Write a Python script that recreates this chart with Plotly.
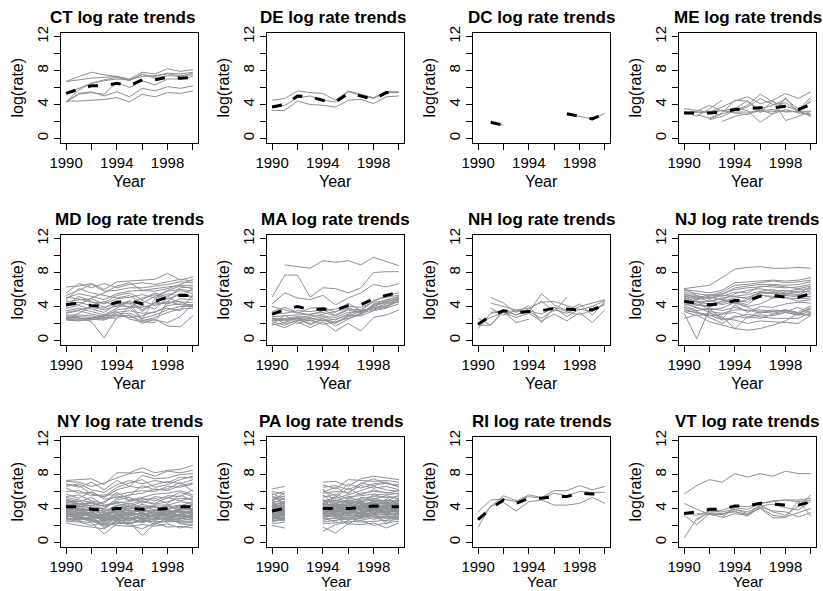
import plotly.graph_objects as go

N = None
YEARS = list(range(1990, 2001))
X_TICKS = [1990, 1992, 1994, 1996, 1998, 2000]
X_TICKTEXT = ["1990", "", "1994", "", "1998", ""]
Y_TICKS = [0, 2, 4, 6, 8, 10, 12]
Y_TICKTEXT = ["0", "", "4", "", "8", "", "12"]
STATES = ["CT", "DE", "DC", "ME", "MD", "MA", "NH", "NJ", "NY", "PA", "RI", "VT"]

CT_LINES = [
    [6.7, 7.3, 7.8, 7.5, 7.3, 7.0, 7.8, 7.6, 8.2, 7.9, 8.1],
    [6.7, 6.9, 7.1, 7.2, 7.3, 6.9, 7.5, 7.3, 7.7, 7.6, 7.8],
    [5.3, 5.9, 6.5, 6.8, 7.0, 6.9, 7.3, 7.4, 7.6, 7.4, 7.5],
    [4.3, 5.7, 6.5, 6.9, 7.2, 6.8, 7.6, 7.1, 7.4, 7.3, 7.7],
    [4.3, 5.2, 5.4, 5.2, 6.6, 6.0, 6.8, 6.3, 7.0, 7.0, 7.3],
    [4.3, 5.3, 5.5, 5.0, 5.5, 4.9, 5.9, 5.6, 6.1, 5.9, 6.2],
    [4.4, 4.4, 4.5, 4.6, 4.8, 4.3, 5.2, 4.9, 5.4, 5.3, 5.6],
]
CT_MEAN = [5.3, 5.8, 6.2, 6.2, 6.5, 6.2, 6.9, 6.9, 7.2, 7.1, 7.2]

DE_LINES = [
    [4.5, 4.7, 5.6, 5.4, 5.3, 4.5, 5.6, 5.2, 4.8, 5.5, 5.5],
    [3.6, 3.9, 4.8, 5.0, 4.5, 4.3, 5.5, 5.1, 4.7, 5.4, 5.4],
    [3.3, 3.3, 4.4, 4.0, 3.9, 3.7, 4.5, 4.6, 4.1, 4.9, 5.0],
]
DE_MEAN = [3.7, 4.0, 5.0, 4.9, 4.5, 4.3, 5.3, 5.0, 4.6, 5.4, 5.4]

DC_LINES = [
    [N, 1.9, 1.55, N, N, N, N, 2.9, 2.6, 2.3, 2.95],
]
DC_MEAN = [N, 1.9, 1.55, N, N, N, N, 2.9, 2.6, 2.3, 2.95]

ME_LINES = [
    [3.5, 3.3, 3.1, 3.7, 4.4, 4.9, 4.1, 4.5, 5.3, 4.7, 5.5],
    [3.2, 2.6, 3.5, 4.5, N, N, N, N, N, N, N],
    [N, N, 2.3, 2.9, 3.3, 3.9, 5.2, 4.3, 3.8, 3.3, 2.7],
    [3.0, 3.2, 3.9, 3.2, 3.6, 3.3, 1.9, 2.9, 3.4, 3.0, 4.6],
    [N, 2.8, 2.4, 3.0, 4.5, 4.4, 3.0, 4.5, 2.1, 2.6, 3.2],
    [N, N, N, 2.0, 2.6, 2.9, 3.3, 3.4, 3.1, 3.2, 2.6],
    [3.1, 3.1, 3.0, 3.3, 3.0, 2.8, 3.5, 3.9, 4.6, 3.5, 4.3],
    [N, N, 2.2, 2.6, 3.3, 3.7, 4.7, 4.0, 4.2, 3.3, 4.9],
    [3.0, 3.1, 3.2, 3.3, 3.1, 3.1, 3.2, 3.2, 3.2, 3.2, 3.2],
    [N, N, N, N, 3.5, 4.4, 3.3, 2.9, 4.8, 3.0, 2.9],
]
ME_MEAN = [3.0, 3.0, 3.0, 3.1, 3.4, 3.5, 3.6, 3.6, 3.8, 3.4, 4.0]

MD_LINES = [
    [6.3, 6.4, 6.7, 6.0, 6.9, 7.0, 7.1, 7.2, 7.9, 7.1, 7.5],
    [5.6, 6.7, 6.2, 6.7, 6.2, 6.6, 6.8, 6.6, 6.9, 7.2, 7.0],
    [5.3, 5.9, 6.6, 5.8, 5.9, 6.2, 6.2, 6.4, 6.6, 6.9, 6.8],
    [5.0, 5.5, 5.2, 4.8, 5.5, 5.8, 5.9, 6.1, 6.3, 6.5, 6.5],
    [4.8, 6.1, 5.6, 5.3, 5.0, 5.3, 4.4, 5.2, 5.9, 6.4, 6.1],
    [4.5, 4.8, 4.9, 4.3, 4.9, 5.1, 5.4, 5.0, 5.8, 6.0, 5.8],
    [4.3, 4.5, 4.1, 4.6, 4.0, 4.7, 3.6, 4.4, 5.3, 5.9, 5.5],
    [4.0, 5.2, 4.6, 3.9, 4.4, 4.3, 5.0, 5.4, 4.9, 5.4, 5.2],
    [3.8, 4.1, 3.7, 3.3, 4.3, 3.9, 4.7, 4.1, 4.6, 5.6, 5.0],
    [3.5, 3.8, 3.4, 3.0, 3.8, 4.6, 3.4, 4.5, 4.3, 4.9, 4.8],
    [3.2, 3.5, 3.1, 2.8, 3.6, 3.8, 4.1, 3.7, 5.0, 4.5, 4.5],
    [3.0, 3.0, 2.9, 2.6, 3.3, 3.5, 3.2, 3.3, 4.1, 4.3, 4.2],
    [2.9, 2.8, 2.7, 2.5, 3.1, 3.2, 2.6, 3.0, 3.6, 4.0, 4.0],
    [2.8, 2.6, 2.5, 2.4, 2.9, 2.9, 2.3, 2.7, 3.3, 3.7, 3.8],
    [2.7, 2.7, 2.2, 0.3, 2.7, 3.0, 2.0, 2.5, 1.7, 1.6, 2.9],
    [2.6, 2.5, 2.6, 3.0, 3.4, 2.5, 2.2, 2.1, 4.6, 4.2, 4.1],
    [2.5, 2.4, 2.4, 2.7, 2.6, 4.0, 2.4, 2.4, 2.1, 2.8, 4.3],
    [2.5, 3.2, 4.0, 3.8, 4.6, 4.4, 2.5, 4.9, 5.5, 5.2, 6.1],
    [4.7, 4.2, 5.0, 5.6, 6.4, 6.8, 5.9, 5.8, 6.1, 6.6, 7.2],
    [5.1, 4.9, 4.5, 4.4, 5.3, 5.6, 4.8, 5.6, 5.1, 6.2, 6.3],
    [3.3, 3.6, 3.9, 3.6, 4.1, 4.0, 3.9, 4.3, 4.4, 4.6, 3.9],
    [2.4, 2.3, 2.5, 2.9, 3.0, 2.7, 2.9, 3.4, 3.8, 3.5, 5.4],
]
MD_MEAN = [4.2, 4.4, 4.1, 4.0, 4.5, 4.7, 4.3, 4.6, 5.1, 5.3, 5.3]

MA_LINES = [
    [N, 8.9, 8.7, 8.5, 9.4, 9.2, 9.4, 8.9, 9.8, 9.3, 8.8],
    [5.1, 7.7, 7.7, 5.1, 6.2, 6.1, 5.6, 6.2, 8.0, 8.1, 8.1],
    [4.3, 5.6, 5.0, 4.8, 5.3, 4.2, 5.0, 5.6, 6.6, 6.3, 6.7],
    [4.0, 3.6, 3.2, 3.8, 3.9, 3.3, 4.4, 3.5, 4.6, 5.3, 5.6],
    [3.1, 3.2, 3.5, 3.4, 3.6, 3.0, 3.7, 3.6, 4.7, 5.1, 5.3],
    [2.8, 2.9, 3.0, 3.1, 3.3, 2.9, 3.6, 3.2, 4.2, 4.8, 5.1],
    [2.6, 2.6, 2.8, 2.7, 3.1, 3.4, 3.8, 3.3, 4.0, 4.5, 5.0],
    [2.5, 2.4, 2.7, 2.9, 2.9, 2.7, 3.3, 3.4, 3.8, 4.3, 4.9],
    [2.4, 2.3, 2.6, 2.5, 2.8, 2.4, 3.1, 3.6, 3.7, 4.1, 4.8],
    [2.3, 2.5, 2.5, 2.3, 2.6, 2.1, 2.9, 3.4, 3.9, 4.0, 4.6],
    [2.2, 1.8, 2.4, 2.0, 2.4, 2.0, 2.8, 3.1, 4.3, 4.4, 4.5],
    [2.0, 1.5, 2.2, 1.5, 2.2, 1.1, 2.0, 1.1, 2.7, 3.0, 3.6],
    [1.8, 2.1, 2.7, 1.8, 2.6, 1.7, 2.5, 3.2, 3.6, 3.9, 4.7],
    [1.9, 3.0, 2.0, 2.4, 1.9, 2.2, 2.6, 3.0, 4.1, 4.6, 4.9],
    [3.4, 3.9, 3.3, 3.0, 3.5, 3.7, 4.0, 3.9, 4.5, 4.7, 5.2],
    [2.7, 2.0, 2.3, 2.6, 2.3, 2.5, 3.0, 2.9, 3.5, 3.8, 4.3],
]
MA_MEAN = [3.1, 3.6, 4.0, 3.6, 3.7, 3.6, 4.1, 4.2, 4.9, 5.3, 5.7]

NH_LINES = [
    [1.4, 3.2, 3.4, 3.5, 3.3, 5.5, 4.2, 3.5, 4.3, 3.0, 4.6],
    [2.6, 1.8, 3.6, 3.0, 3.7, 4.6, 3.4, 5.1, N, N, N],
    [1.8, 1.8, 3.4, 2.1, 2.5, N, N, N, N, N, N],
    [N, 5.1, 4.4, 3.3, 4.1, 2.1, 3.9, 3.4, 3.0, 3.6, 4.2],
    [N, 4.4, 4.0, 3.6, 3.8, 4.5, 4.6, 4.1, 3.6, 4.0, 4.7],
    [2.0, 2.7, 3.3, 2.7, 3.2, 2.3, 3.1, 2.3, 3.3, 2.1, 3.6],
    [N, 3.8, 3.0, 3.5, 3.5, 3.1, 3.9, 2.8, 3.7, 3.4, 4.4],
    [N, 3.3, 3.5, 3.0, 3.4, 2.6, 3.6, 3.2, 4.0, 4.4, 4.8],
]
NH_MEAN = [1.9, 2.9, 3.5, 3.3, 3.4, 3.5, 3.8, 3.7, 3.6, 3.6, 4.2]

NJ_LINES = [
    [6.1, 6.3, 6.5, 7.4, 8.4, 8.6, 8.7, 8.5, 8.5, 8.6, 8.5],
    [6.0, 5.8, 5.6, 5.9, 6.8, 6.9, 7.0, 7.1, 7.0, 7.1, 7.4],
    [5.9, 5.5, 5.3, 5.7, 6.5, 6.6, 6.8, 7.0, 6.8, 6.9, 7.1],
    [5.7, 5.2, 5.0, 5.4, 6.2, 6.4, 6.6, 6.6, 6.5, 6.6, 6.9],
    [5.5, 5.0, 5.4, 5.2, 5.7, 5.6, 6.4, 6.3, 6.2, 6.3, 6.6],
    [5.3, 4.8, 5.1, 4.8, 5.5, 5.9, 6.1, 5.8, 5.9, 5.6, 6.3],
    [5.1, 4.6, 4.6, 5.0, 5.2, 5.4, 5.8, 6.0, 5.6, 5.4, 6.0],
    [5.0, 4.5, 4.3, 4.6, 5.0, 5.1, 5.6, 5.7, 5.5, 5.8, 5.7],
    [4.8, 4.3, 4.0, 4.4, 4.8, 4.5, 5.6, 5.5, 5.3, 5.1, 5.2],
    [4.6, 4.1, 4.8, 4.2, 4.6, 4.2, 5.3, 5.2, 5.0, 4.9, 5.0],
    [4.5, 3.8, 3.6, 3.8, 4.5, 4.0, 4.3, 5.0, 5.1, 4.6, 4.8],
    [4.3, 3.9, 3.3, 2.5, 4.2, 3.3, 4.0, 3.9, 4.3, 4.5, 4.4],
    [4.1, 3.5, 3.8, 3.5, 3.9, 3.5, 3.6, 3.4, 3.6, 3.3, 4.1],
    [3.9, 3.4, 2.7, 2.0, 2.9, 2.6, 3.4, 3.2, 3.5, 3.1, 3.9],
    [3.7, 3.2, 2.9, 3.1, 3.3, 2.8, 3.0, 2.9, 3.3, 3.0, 3.5],
    [3.5, 3.3, 3.0, 2.4, 2.7, 3.1, 2.8, 2.6, 2.6, 2.6, 3.3],
    [3.2, 0.2, 3.7, 2.6, 2.4, 2.0, 2.3, 2.2, 2.1, 2.0, 3.0],
    [2.6, 3.0, 2.2, 1.8, 1.4, 1.2, 1.4, 1.8, 2.3, 3.2, 2.9],
    [6.1, 5.3, 4.9, 5.3, 5.2, 4.9, 5.7, 5.6, 5.4, 5.3, 5.5],
    [5.4, 5.1, 4.6, 4.9, 4.4, 4.8, 5.4, 5.0, 5.8, 6.0, 6.1],
    [4.9, 4.2, 3.9, 4.7, 4.4, 3.9, 3.3, 3.4, 3.6, 3.2, 3.7],
    [4.4, 4.7, 3.4, 3.2, 3.6, 3.6, 3.2, 3.6, 3.4, 3.9, 3.2],
    [3.4, 2.9, 3.2, 2.8, 1.4, 2.8, 2.6, 3.1, 3.3, 3.0, 3.1],
    [5.2, 4.9, 5.2, 5.5, 6.0, 6.2, 6.3, 6.5, 6.3, 6.1, 6.4],
]
NJ_MEAN = [4.6, 4.4, 4.2, 4.3, 4.7, 4.7, 5.2, 5.3, 5.1, 5.1, 5.5]

NY_LINES = [
    [7.3, 7.4, 7.5, 6.8, 8.2, 8.2, 8.8, 8.2, 8.5, 8.6, 9.1],
    [7.2, 7.1, 6.6, 7.0, 7.6, 8.1, 8.3, 7.8, 8.4, 8.2, 8.5],
    [6.9, 6.5, 7.1, 6.2, 7.3, 6.6, 7.9, 7.5, 7.6, 8.0, 8.1],
    [6.6, 6.9, 6.2, 5.9, 6.8, 7.3, 6.9, 7.3, 7.0, 7.7, 7.6],
    [6.4, 5.8, 5.9, 5.3, 6.2, 6.6, 6.4, 6.8, 7.2, 6.9, 7.4],
    [6.0, 6.1, 5.5, 5.6, 5.6, 5.9, 6.1, 6.0, 6.6, 6.5, 6.9],
    [5.7, 5.2, 6.0, 5.1, 5.3, 5.5, 6.7, 6.2, 6.3, 7.1, 6.0],
    [5.4, 5.6, 4.9, 4.6, 5.9, 5.0, 5.3, 5.7, 5.8, 6.1, 5.6],
    [5.1, 4.8, 5.3, 4.4, 4.7, 4.8, 5.2, 4.9, 5.5, 5.4, 6.2],
    [4.9, 4.5, 4.6, 4.3, 4.6, 4.2, 4.8, 4.5, 4.8, 5.2, 5.1],
    [4.7, 4.9, 4.2, 3.6, 4.3, 4.6, 4.1, 4.4, 4.4, 4.8, 4.6],
    [4.5, 4.2, 4.4, 3.8, 3.9, 4.3, 3.8, 4.2, 4.0, 4.3, 4.8],
    [4.4, 4.1, 3.7, 3.4, 4.1, 3.9, 4.3, 3.8, 3.9, 4.2, 4.3],
    [4.2, 3.8, 4.0, 3.1, 3.7, 3.8, 3.6, 3.9, 3.6, 3.9, 4.0],
    [4.0, 3.5, 3.5, 3.0, 3.6, 3.4, 3.4, 3.5, 3.8, 3.5, 3.8],
    [3.9, 3.9, 3.2, 2.9, 3.3, 3.6, 3.1, 3.3, 3.4, 3.7, 3.5],
    [3.8, 3.3, 3.6, 2.6, 3.0, 3.2, 3.5, 3.0, 3.2, 3.3, 3.7],
    [3.6, 3.6, 3.0, 3.3, 2.8, 2.9, 3.2, 3.6, 3.1, 3.0, 3.3],
    [3.5, 3.1, 3.3, 2.5, 3.2, 2.7, 2.9, 3.2, 3.5, 3.2, 3.1],
    [3.4, 3.0, 2.8, 2.8, 3.4, 3.0, 2.7, 2.8, 2.9, 3.4, 3.0],
    [3.2, 2.8, 2.6, 2.2, 2.7, 2.5, 3.0, 2.6, 3.0, 2.8, 3.2],
    [3.0, 3.2, 2.5, 2.0, 2.5, 2.8, 2.4, 2.9, 2.7, 2.6, 2.8],
    [2.9, 2.6, 2.9, 1.7, 2.4, 2.3, 2.6, 2.4, 2.5, 2.9, 2.6],
    [2.7, 2.5, 2.3, 1.0, 2.2, 2.4, 0.8, 2.2, 2.6, 2.4, 2.4],
    [2.5, 2.4, 2.0, 2.3, 2.0, 1.9, 2.1, 1.9, 2.2, 1.7, 2.1],
    [2.3, 2.0, 1.8, 1.6, 2.6, 2.0, 1.6, 2.3, 1.8, 1.9, 1.7],
    [4.3, 4.6, 3.9, 3.7, 4.4, 4.0, 4.5, 4.1, 4.2, 4.4, 4.2],
    [4.1, 3.7, 3.8, 3.5, 3.5, 4.1, 3.7, 3.7, 4.3, 3.8, 3.9],
    [3.7, 4.0, 3.4, 3.2, 3.8, 3.5, 3.9, 3.4, 3.7, 3.6, 3.4],
    [3.3, 3.4, 3.1, 2.7, 3.1, 3.3, 2.8, 3.1, 3.3, 3.1, 2.9],
    [3.1, 2.9, 2.7, 2.4, 2.9, 2.6, 3.3, 2.7, 2.8, 2.7, 3.5],
    [2.8, 2.7, 3.1, 1.9, 2.3, 2.2, 2.5, 2.5, 2.4, 2.5, 2.5],
    [4.6, 4.3, 4.1, 4.0, 5.2, 5.6, 5.8, 6.3, 6.1, 6.7, 7.0],
    [5.3, 5.0, 4.7, 3.9, 5.0, 5.3, 4.6, 5.4, 5.2, 5.9, 5.4],
    [4.8, 4.4, 4.8, 4.2, 4.8, 4.5, 4.9, 4.6, 5.3, 4.9, 5.3],
    [6.8, 6.7, 5.7, 5.4, 6.5, 7.0, 7.4, 6.5, 6.8, 7.4, 7.8],
    [3.7, 3.2, 3.5, 3.0, 4.0, 3.1, 3.6, 2.9, 3.9, 3.1, 3.6],
    [3.3, 3.8, 2.8, 3.4, 2.9, 3.7, 3.0, 3.8, 3.0, 3.8, 3.2],
    [4.1, 3.4, 3.3, 2.4, 3.5, 3.2, 4.0, 3.2, 3.4, 4.0, 3.9],
    [2.9, 3.5, 3.0, 2.9, 2.6, 3.5, 2.6, 3.4, 3.6, 2.8, 3.0],
    [3.6, 2.7, 3.7, 2.7, 3.3, 2.6, 3.4, 3.0, 2.6, 3.3, 2.7],
    [4.4, 3.9, 3.2, 3.3, 3.7, 4.4, 3.3, 3.7, 4.5, 3.6, 3.6],
    [3.1, 3.1, 2.6, 2.1, 3.0, 2.9, 2.3, 2.8, 3.2, 2.3, 2.3],
    [3.9, 4.3, 3.6, 3.0, 4.2, 3.7, 3.8, 4.3, 3.3, 4.1, 4.5],
    [2.6, 2.9, 2.4, 2.6, 2.8, 2.2, 2.8, 2.1, 2.9, 2.2, 2.0],
    [5.0, 4.6, 4.3, 4.8, 5.5, 4.9, 5.0, 5.2, 4.6, 5.6, 4.9],
]
NY_MEAN = [4.2, 4.2, 3.9, 3.8, 4.0, 4.0, 3.9, 3.9, 4.0, 4.2, 4.2]

PA_LINES = [
    [6.3, 6.6, N, N, 7.1, 7.2, 6.6, 7.5, 7.8, 7.6, 7.4],
    [6.0, 5.7, N, N, 6.8, 6.3, 7.4, 7.3, 7.2, 7.3, 7.1],
    [5.6, 6.0, N, N, 6.5, 6.7, 6.2, 6.9, 7.5, 6.9, 6.8],
    [5.3, 5.4, N, N, 6.1, 5.5, 6.9, 6.4, 6.9, 7.1, 6.5],
    [5.1, 5.1, N, N, 5.8, 6.0, 5.9, 6.7, 6.4, 6.6, 6.2],
    [4.9, 5.5, N, N, 5.5, 5.2, 5.6, 6.1, 6.6, 6.2, 6.0],
    [4.8, 4.8, N, N, 5.3, 5.7, 5.1, 5.8, 6.0, 5.9, 5.7],
    [4.6, 5.2, N, N, 5.0, 4.9, 5.4, 5.5, 5.7, 5.6, 5.8],
    [4.5, 4.6, N, N, 4.9, 4.6, 4.9, 5.2, 5.4, 5.3, 5.4],
    [4.4, 4.3, N, N, 4.7, 5.0, 4.7, 5.0, 5.1, 5.5, 5.1],
    [4.3, 4.9, N, N, 4.6, 4.4, 4.5, 4.8, 5.0, 4.9, 4.9],
    [4.2, 4.1, N, N, 4.5, 4.3, 4.8, 4.5, 4.8, 4.7, 4.8],
    [4.1, 4.5, N, N, 4.4, 4.5, 4.2, 4.6, 4.6, 4.5, 4.6],
    [4.0, 3.9, N, N, 4.3, 4.1, 4.4, 4.3, 4.5, 4.6, 4.4],
    [3.9, 4.2, N, N, 4.1, 4.2, 4.0, 4.2, 4.3, 4.3, 4.5],
    [3.8, 3.7, N, N, 4.0, 3.9, 4.1, 4.0, 4.4, 4.2, 4.3],
    [3.7, 4.0, N, N, 3.9, 4.0, 3.8, 4.1, 4.1, 4.0, 4.1],
    [3.6, 3.6, N, N, 3.8, 3.8, 3.9, 3.8, 4.2, 4.1, 4.0],
    [3.5, 3.8, N, N, 3.7, 3.6, 3.7, 3.9, 3.9, 3.8, 3.9],
    [3.4, 3.4, N, N, 3.6, 3.7, 3.5, 3.6, 4.0, 3.9, 3.7],
    [3.3, 3.6, N, N, 3.5, 3.4, 3.6, 3.5, 3.7, 3.6, 3.8],
    [3.2, 3.2, N, N, 3.4, 3.5, 3.3, 3.4, 3.8, 3.7, 3.6],
    [3.1, 3.4, N, N, 3.3, 3.2, 3.4, 3.3, 3.5, 3.5, 3.4],
    [3.0, 3.0, N, N, 3.2, 3.3, 3.1, 3.2, 3.6, 3.4, 3.5],
    [2.9, 3.2, N, N, 3.1, 3.0, 3.2, 3.0, 3.3, 3.2, 3.3],
    [2.8, 2.8, N, N, 3.0, 3.1, 2.9, 3.1, 3.4, 3.3, 3.2],
    [2.7, 3.0, N, N, 2.8, 2.8, 3.0, 2.8, 3.1, 3.0, 3.0],
    [2.6, 2.6, N, N, 2.6, 2.9, 2.7, 2.9, 3.2, 2.8, 3.1],
    [2.4, 2.8, N, N, 2.4, 2.6, 2.8, 2.6, 2.9, 2.9, 2.8],
    [2.2, 2.4, N, N, 2.2, 2.3, 2.5, 2.4, 2.5, 2.6, 2.7],
    [2.0, 1.7, N, N, 1.8, 1.1, 2.2, 2.1, 2.3, 1.7, 2.3],
    [4.7, 4.0, N, N, 1.3, 2.1, 2.4, 2.6, 2.0, 2.3, 2.5],
    [3.9, 3.3, N, N, 5.6, 4.4, 3.6, 4.4, 4.7, 5.0, 4.7],
    [4.4, 3.5, N, N, 4.2, 5.5, 4.6, 3.7, 3.8, 4.4, 5.2],
    [3.6, 4.4, N, N, 3.4, 3.9, 5.3, 4.9, 4.0, 3.4, 4.2],
    [3.2, 3.9, N, N, 6.3, 4.8, 3.2, 5.3, 5.2, 4.8, 5.6],
    [2.5, 2.9, N, N, 2.9, 2.4, 3.8, 3.4, 2.7, 3.1, 2.9],
    [5.8, 5.0, N, N, 4.8, 5.3, 6.4, 5.6, 6.2, 5.8, 6.1],
    [3.0, 3.7, N, N, 3.6, 3.3, 2.6, 3.6, 3.0, 2.5, 3.5],
    [4.1, 3.1, N, N, 2.7, 3.6, 4.2, 2.9, 4.5, 4.0, 3.6],
    [5.5, 4.6, N, N, 4.0, 4.7, 5.0, 4.7, 5.6, 5.3, 4.4],
    [3.4, 2.5, N, N, 4.6, 3.0, 2.1, 3.1, 3.6, 2.2, 3.1],
    [3.3, 3.1, N, N, 4.4, 3.2, 4.5, 3.7, 4.9, 3.9, 4.0],
    [4.0, 4.7, N, N, 3.2, 4.6, 3.5, 4.8, 3.4, 4.4, 3.9],
    [3.8, 3.3, N, N, 5.1, 3.7, 4.3, 3.4, 4.2, 5.1, 3.3],
    [2.9, 3.5, N, N, 3.8, 4.3, 3.3, 4.5, 3.9, 3.6, 4.6],
    [4.5, 3.8, N, N, 3.0, 3.5, 4.9, 4.0, 5.0, 4.5, 3.8],
    [3.5, 4.3, N, N, 4.5, 2.9, 3.7, 5.0, 3.3, 4.1, 5.0],
    [2.7, 3.4, N, N, 3.5, 4.2, 4.1, 3.3, 4.4, 3.3, 4.1],
    [4.2, 3.6, N, N, 3.9, 5.0, 3.4, 4.3, 3.7, 4.7, 3.7],
    [3.1, 2.7, N, N, 4.1, 3.6, 4.7, 3.9, 4.8, 3.2, 4.3],
    [5.0, 5.8, N, N, 5.9, 6.5, 5.7, 7.0, 6.7, 7.0, 6.6],
]
PA_MEAN = [3.7, 4.0, N, N, 4.0, 4.0, 4.0, 4.1, 4.3, 4.2, 4.2]

RI_LINES = [
    [3.6, 5.0, 5.1, 4.8, 5.6, 5.3, 6.1, 6.1, 6.7, 6.2, 6.6],
    [2.7, 4.2, 5.5, 4.9, 5.4, 5.2, 5.8, 5.5, 6.0, 5.9, 5.9],
    [1.8, 4.3, 4.7, 3.7, 4.8, 5.0, 4.4, 4.4, 4.6, 5.3, 4.6],
]
RI_MEAN = [2.7, 4.0, 5.0, 4.6, 5.2, 5.2, 5.4, 5.4, 5.8, 5.7, 5.7]

VT_LINES = [
    [5.7, 6.7, 7.4, 7.1, 8.1, 7.7, 8.1, 7.8, 8.4, 8.1, 8.1],
    [0.5, 2.8, 3.5, 3.4, 3.6, 3.3, 4.4, 3.6, 3.2, 4.3, 5.6],
    [4.6, 3.9, 3.3, 3.3, 3.7, 3.1, 4.2, 3.7, 3.6, 3.0, 3.5],
    [3.2, 2.1, 3.4, 3.3, 3.9, 3.4, 4.0, 2.9, 2.9, 4.9, 3.1],
    [3.4, 3.2, 3.7, 3.6, 3.9, 3.6, 4.3, 4.5, 4.1, 3.8, 4.9],
    [N, 3.4, 3.3, 3.0, 4.1, 3.9, 4.6, 4.9, 5.0, 5.0, 5.2],
    [N, N, N, 2.9, 3.4, 3.2, 4.1, 3.2, 3.0, 3.5, 4.0],
    [N, 2.6, 3.7, 3.8, 4.3, 4.2, 4.6, 4.8, 5.0, 4.8, 5.0],
]
VT_MEAN = [3.4, 3.6, 3.9, 3.9, 4.3, 4.3, 4.6, 4.5, 4.4, 4.4, 4.8]

PANEL_LINES = [CT_LINES, DE_LINES, DC_LINES, ME_LINES, MD_LINES, MA_LINES,
               NH_LINES, NJ_LINES, NY_LINES, PA_LINES, RI_LINES, VT_LINES]
PANEL_MEANS = [CT_MEAN, DE_MEAN, DC_MEAN, ME_MEAN, MD_MEAN, MA_MEAN,
               NH_MEAN, NJ_MEAN, NY_MEAN, PA_MEAN, RI_MEAN, VT_MEAN]

# ---- layout geometry (pixels) ----
W, H = 823, 591
COL_LEFT = [61, 267, 473, 679]
BOX_W = 137
ROW_TOP = [32.5, 234.5, 436.5]
BOX_H = 110
YEAR_Y = [181, 383, 581]
YEAR_SIZE = [16, 16, 15]
TITLE_SHIFT = [-7, -3, 0, 0, 0, 0, 0, 0, 0, -4, 0, 0]
FONT = "Liberation Sans, Arial, Helvetica, sans-serif"
GRAY = "#8d9095"

fig = go.Figure()
layout = dict(
    template="none",
    width=W, height=H, autosize=False,
    margin=dict(l=0, r=0, t=0, b=0, pad=0),
    paper_bgcolor="white", plot_bgcolor="white",
    showlegend=False,
    font=dict(family=FONT, color="black", size=15),
)
annotations = []

for i, state in enumerate(STATES):
    k = i + 1
    r, c = divmod(i, 4)
    xs = "x" if k == 1 else f"x{k}"
    ys = "y" if k == 1 else f"y{k}"
    for series in PANEL_LINES[i]:
        fig.add_trace(go.Scatter(
            x=YEARS, y=series, mode="lines", xaxis=xs, yaxis=ys,
            line=dict(color=GRAY, width=1), connectgaps=False, hoverinfo="skip"))
    fig.add_trace(go.Scatter(
        x=YEARS, y=PANEL_MEANS[i], mode="lines", xaxis=xs, yaxis=ys,
        line=dict(color="black", width=3, dash="10px,13px"), connectgaps=False,
        hoverinfo="skip"))

    left, top = COL_LEFT[c], ROW_TOP[r]
    x0, x1 = left / W, (left + BOX_W) / W
    y0, y1 = 1 - (top + BOX_H) / H, 1 - top / H
    xkey = "xaxis" if k == 1 else f"xaxis{k}"
    ykey = "yaxis" if k == 1 else f"yaxis{k}"
    layout[xkey] = dict(
        domain=[x0, x1], anchor=ys, range=[1989.6, 2000.4],
        tickmode="array", tickvals=X_TICKS, ticktext=X_TICKTEXT,
        ticks="outside", ticklen=6, tickwidth=1, tickcolor="black",
        showline=True, mirror=True, linecolor="black", linewidth=1,
        showgrid=False, zeroline=False, automargin=False,
        tickfont=dict(family=FONT, size=15, color="black"),
    )
    layout[ykey] = dict(
        domain=[y0, y1], anchor=xs, range=[-0.48, 12.48],
        tickmode="array", tickvals=Y_TICKS, ticktext=Y_TICKTEXT,
        ticks="outside", ticklen=6, tickwidth=1, tickcolor="black",
        showline=True, mirror=True, linecolor="black", linewidth=1,
        showgrid=False, zeroline=False, tickangle=-90, automargin=False,
        tickfont=dict(family=FONT, size=15, color="black"),
    )
    cx = (left + BOX_W / 2) / W
    annotations.append(dict(
        text=f"<b>{state} log rate trends</b>",
        x=(left + BOX_W / 2 + TITLE_SHIFT[i]) / W, y=1 - (top - 15) / H,
        xref="paper", yref="paper", xanchor="center", yanchor="middle",
        showarrow=False, font=dict(family=FONT, size=17, color="black")))
    annotations.append(dict(
        text="Year", x=cx, y=1 - YEAR_Y[r] / H,
        xref="paper", yref="paper", xanchor="center", yanchor="middle",
        showarrow=False, font=dict(family=FONT, size=YEAR_SIZE[r], color="black")))
    annotations.append(dict(
        text="log(rate)", x=(left - 44) / W, y=1 - (top + BOX_H / 2) / H,
        xref="paper", yref="paper", xanchor="center", yanchor="middle",
        textangle=-90, showarrow=False,
        font=dict(family=FONT, size=16, color="black")))

layout["annotations"] = annotations
fig.update_layout(**layout)
fig.write_html("out.html")
